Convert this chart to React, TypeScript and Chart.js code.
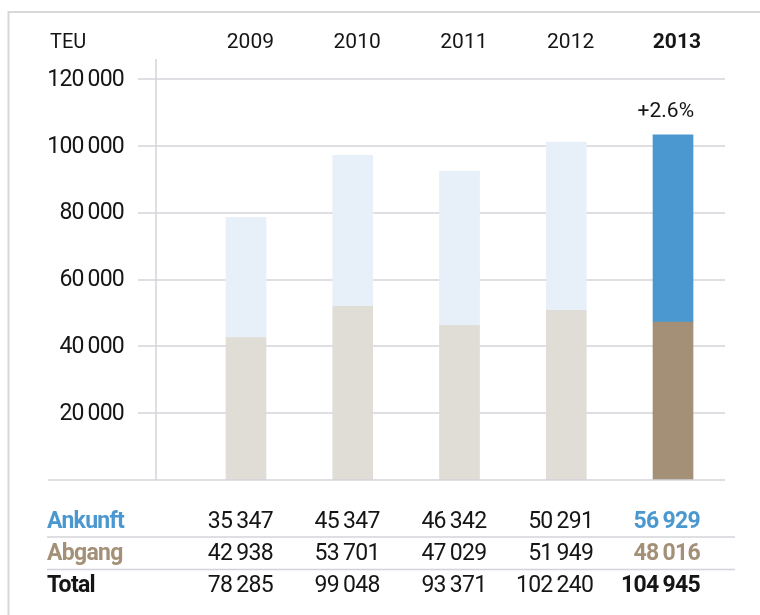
import React, { useEffect, useRef } from 'react';
import { Chart, registerables } from 'chart.js';

Chart.register(...registerables);

// ---- Data ----
const years = ['2009', '2010', '2011', '2012', '2013'];
// values printed in the table
const ankunft = [35347, 45347, 46342, 50291, 56929];
const abgang = [42938, 53701, 47029, 51949, 48016];
const total = [78285, 99048, 93371, 102240, 104945];
// bar segment heights as drawn in the chart
const barAbgang = [42600, 52000, 46300, 50800, 47300];
const barAnkunft = [36000, 45200, 46100, 50300, 56000];
const yTicks = [20000, 40000, 60000, 80000, 100000, 120000];
const unitLabel = 'TEU';
const growthLabel = '+2.6%';
const rowLabels = ['Ankunft', 'Abgang', 'Total'];

// ---- Styles ----
const FONT = 'Roboto, "Liberation Sans", sans-serif';
const TEXT = '#151515';
const BLUE = '#4a98cf';
const BROWN = '#a39077';
const LIGHT_BLUE = '#e7eff8';
const BEIGE = '#e0dcd6';
const GRID = '#d3d3da';
const FRAME = '#d8d8d8';

const fmt = (v: number) => {
  const s = String(v);
  return s.replace(/\B(?=(\d{3})+(?!\d))/g, '\u2009');
};

const gridPlugin = {
  id: 'customGrid',
  beforeDatasetsDraw(chart: any) {
    const { ctx, scales, chartArea } = chart;
    const y = scales.y;
    ctx.save();
    ctx.strokeStyle = GRID;
    ctx.lineWidth = 1.5;
    // horizontal gridlines with tick marks
    yTicks.forEach((t) => {
      const py = Math.round(y.getPixelForValue(t));
      ctx.beginPath();
      ctx.moveTo(chartArea.left - 18, py);
      ctx.lineTo(chartArea.right, py);
      ctx.stroke();
    });
    // vertical axis line
    const ax = Math.round(chartArea.left);
    ctx.beginPath();
    ctx.moveTo(ax, chartArea.top);
    ctx.lineTo(ax, chartArea.bottom);
    ctx.stroke();
    ctx.restore();
  },
};

const overlay = {
  id: 'overlay',
  afterDraw(chart: any) {
    const { ctx, scales, chartArea } = chart;
    const x = scales.x;
    const y = scales.y;
    const last = years.length - 1;
    ctx.save();

    // frame
    ctx.strokeStyle = FRAME;
    ctx.lineWidth = 2;
    ctx.beginPath();
    ctx.moveTo(8.5, 615);
    ctx.lineTo(8.5, 12);
    ctx.lineTo(760, 12);
    ctx.stroke();

    // baseline
    const y0 = Math.round(y.getPixelForValue(0));
    ctx.strokeStyle = GRID;
    ctx.lineWidth = 1.5;
    ctx.beginPath();
    ctx.moveTo(48, y0);
    ctx.lineTo(chartArea.right, y0);
    ctx.stroke();

    ctx.textBaseline = 'middle';
    ctx.fillStyle = TEXT;

    // unit label
    ctx.font = `20px ${FONT}`;
    ctx.textAlign = 'left';
    ctx.fillText(unitLabel, 50, 43);

    // y tick labels
    ctx.font = `23px ${FONT}`;
    (ctx as any).letterSpacing = '-0.8px';
    ctx.textAlign = 'right';
    yTicks.forEach((t) => {
      ctx.fillText(fmt(t), 124, y.getPixelForValue(t) + 1);
    });
    (ctx as any).letterSpacing = '0px';

    // year labels (right-aligned with the table columns)
    ctx.textAlign = 'right';
    years.forEach((yr, i) => {
      ctx.font = `${i === last ? 'bold ' : ''}21px ${FONT}`;
      ctx.fillText(yr, x.getPixelForValue(i) + 28, 43);
    });

    // growth label
    ctx.font = `21px ${FONT}`;
    ctx.textAlign = 'right';
    ctx.fillText(growthLabel, x.getPixelForValue(last) + 21, 112);

    // table separators
    ctx.strokeStyle = GRID;
    ctx.lineWidth = 1.5;
    [537, 569.5].forEach((ly) => {
      ctx.beginPath();
      ctx.moveTo(47, ly);
      ctx.lineTo(735, ly);
      ctx.stroke();
    });

    // table
    const rows = [ankunft, abgang, total];
    const rowColors = [BLUE, BROWN, TEXT];
    const rowY = [522, 554, 586];
    (ctx as any).letterSpacing = '-0.7px';
    rows.forEach((vals, r) => {
      ctx.font = `bold 23px ${FONT}`;
      ctx.fillStyle = rowColors[r];
      ctx.textAlign = 'left';
      ctx.fillText(rowLabels[r], 47, rowY[r]);
      ctx.textAlign = 'right';
      vals.forEach((v, i) => {
        const isLast = i === last;
        ctx.font = `${isLast ? 'bold ' : ''}23px ${FONT}`;
        ctx.fillStyle = isLast ? rowColors[r] : TEXT;
        ctx.fillText(fmt(v), x.getPixelForValue(i) + 27, rowY[r]);
      });
    });
    (ctx as any).letterSpacing = '0px';

    ctx.restore();
  },
};

export default function App() {
  const ref = useRef<HTMLCanvasElement | null>(null);
  useEffect(() => {
    if (!ref.current) return;
    const last = years.length - 1;
    const chart = new Chart(ref.current, {
      type: 'bar',
      data: {
        datasets: [
          {
            label: 'Abgang',
            data: barAbgang.map((v, i) => ({ x: i, y: v })),
            backgroundColor: years.map((_, i) => (i === last ? BROWN : BEIGE)),
            barThickness: 40,
            borderWidth: 0,
          },
          {
            label: 'Ankunft',
            data: barAnkunft.map((v, i) => ({ x: i, y: v })),
            backgroundColor: years.map((_, i) => (i === last ? BLUE : LIGHT_BLUE)),
            barThickness: 40,
            borderWidth: 0,
          },
        ],
      },
      options: {
        animation: false,
        responsive: false,
        devicePixelRatio: 1,
        layout: { padding: { left: 156, right: 35, top: 59, bottom: 135 } },
        plugins: { legend: { display: false }, tooltip: { enabled: false } },
        scales: {
          x: {
            type: 'linear',
            display: false,
            offset: false,
            min: -0.843,
            max: 4.487,
            stacked: true,
            grid: { offset: false },
          },
          y: {
            display: false,
            min: 0,
            max: 126000,
            stacked: true,
          },
        },
      },
      plugins: [gridPlugin, overlay],
    } as any);
    return () => chart.destroy();
  }, []);
  return (
    <div style={{ position: 'absolute', left: 0, top: 0, width: 760, height: 615, background: '#fff' }}>
      <canvas ref={ref} width={760} height={615} style={{ display: 'block' }} />
    </div>
  );
}
